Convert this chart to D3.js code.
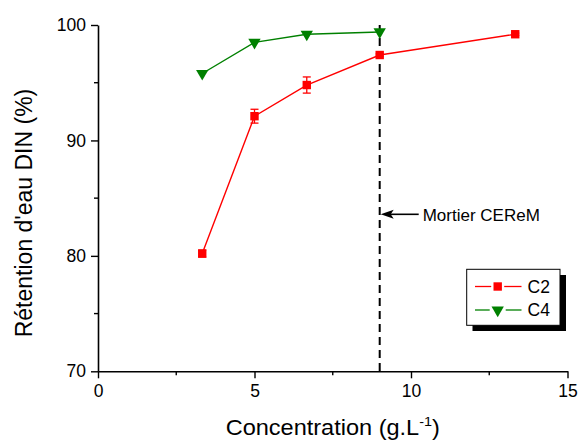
<!DOCTYPE html>
<html>
<head>
<meta charset="utf-8">
<script src="https://cdn.jsdelivr.net/npm/d3@7"></script>
<style>
  html, body { margin: 0; padding: 0; background: #fff; }
  svg { display: block; font-family: "Liberation Sans", Arial, sans-serif; }
</style>
</head>
<body>
<svg id="chart" width="579" height="441"></svg>
<script>
// ---- data ----
const c2Concentration = [3.33, 5, 6.67, 9, 13.33];
const c2Values = [80.2, 92.1, 94.8, 97.4, 99.2];
const c2Errors = [0.3, 0.6, 0.7, 0.1, 0.1];
const c4Concentration = [3.33, 5, 6.67, 9];
const c4Values = [95.8, 98.5, 99.2, 99.4];
const xTicks = [0, 5, 10, 15];
const xMinorTicks = [2.5, 7.5, 12.5];
const yTicks = [70, 80, 90, 100];
const yMinorTicks = [75, 85, 95];
const markerLine = 9;
const seriesNames = ["C2", "C4"];
const annotationText = "Mortier CEReM";

// ---- layout ----
const svg = d3.select("#chart");
svg.append("rect").attr("width", 579).attr("height", 441).attr("fill", "#fff");

const x = d3.scaleLinear().domain([0, 15]).range([98, 567.5]);
const y = d3.scaleLinear().domain([70, 100]).range([371.3, 25]);

const red = "#ff0000", green = "#008000";

// axes
const xAxis = d3.axisBottom(x).tickValues(xTicks).tickSize(7).tickSizeOuter(0).tickPadding(6);
const yAxis = d3.axisLeft(y).tickValues(yTicks).tickSize(7).tickSizeOuter(0).tickPadding(5);

const gx = svg.append("g").attr("transform", `translate(0,${y(70)})`).call(xAxis);
const gy = svg.append("g").attr("transform", `translate(${x(0)},0)`).call(yAxis);
[gx, gy].forEach(g => {
  g.select(".domain").attr("stroke", "#000").attr("stroke-width", 1.6);
  g.selectAll(".tick line").attr("stroke", "#000").attr("stroke-width", 1.4);
  g.selectAll(".tick text").attr("font-size", "17.5px").attr("fill", "#000")
    .attr("font-family", "'Liberation Sans', Arial, sans-serif");
});
// minor ticks
svg.append("g").selectAll("line").data(xMinorTicks).join("line")
  .attr("x1", d => x(d)).attr("x2", d => x(d))
  .attr("y1", y(70)).attr("y2", y(70) + 4)
  .attr("stroke", "#000").attr("stroke-width", 1.4);
svg.append("g").selectAll("line").data(yMinorTicks).join("line")
  .attr("x1", x(0)).attr("x2", x(0) - 4)
  .attr("y1", d => y(d)).attr("y2", d => y(d))
  .attr("stroke", "#000").attr("stroke-width", 1.4);

// axis titles
const xt = svg.append("text")
  .attr("transform", `translate(${(x(0) + x(15)) / 2},435) scale(1.07,1)`)
  .attr("text-anchor", "middle").attr("font-size", "22px").attr("fill", "#000");
xt.append("tspan").text("Concentration (g.L");
xt.append("tspan").attr("font-size", "13.5px").attr("dy", -9.5).text("-1");
xt.append("tspan").attr("dy", 9.5).text(")");

svg.append("text")
  .attr("transform", "translate(32,213) rotate(-90)")
  .attr("text-anchor", "middle").attr("font-size", "23px").attr("fill", "#000")
  .text("Rétention d'eau DIN (%)");

// dashed vertical marker line
svg.append("line")
  .attr("x1", x(markerLine)).attr("x2", x(markerLine))
  .attr("y1", y(100)).attr("y2", y(70))
  .attr("stroke", "#000").attr("stroke-width", 2).attr("stroke-dasharray", "8,5");

// annotation arrow
const arrowY = y(83.6);
svg.append("line")
  .attr("x1", x(markerLine) + 10).attr("x2", x(markerLine) + 39)
  .attr("y1", arrowY).attr("y2", arrowY)
  .attr("stroke", "#000").attr("stroke-width", 1.6);
svg.append("path")
  .attr("d", `M${x(markerLine) + 1},${arrowY} L${x(markerLine) + 14},${arrowY - 4.5} L${x(markerLine) + 11},${arrowY} L${x(markerLine) + 14},${arrowY + 4.5} Z`)
  .attr("fill", "#000");
svg.append("text").attr("x", x(markerLine) + 43).attr("y", arrowY + 6.5)
  .attr("font-size", "17px").attr("fill", "#000").text(annotationText);

// series lines
const c2 = c2Concentration.map((c, i) => ({ x: c, y: c2Values[i], e: c2Errors[i] }));
const c4 = c4Concentration.map((c, i) => ({ x: c, y: c4Values[i] }));
const line = d3.line().x(d => x(d.x)).y(d => y(d.y));

svg.append("path").datum(c4).attr("d", line).attr("fill", "none")
  .attr("stroke", green).attr("stroke-width", 1.4);
svg.append("path").datum(c2).attr("d", line).attr("fill", "none")
  .attr("stroke", red).attr("stroke-width", 1.4);

// error bars C2
const eb = svg.append("g").attr("stroke", red).attr("stroke-width", 1.3);
c2.forEach(d => {
  eb.append("line").attr("x1", x(d.x)).attr("x2", x(d.x)).attr("y1", y(d.y - d.e)).attr("y2", y(d.y + d.e));
  [d.y - d.e, d.y + d.e].forEach(v => {
    eb.append("line").attr("x1", x(d.x) - 4).attr("x2", x(d.x) + 4).attr("y1", y(v)).attr("y2", y(v));
  });
});

// markers
const tri = d3.symbol(d3.symbolTriangle, 66);
svg.append("g").selectAll("path").data(c4).join("path")
  .attr("d", tri)
  .attr("transform", d => `translate(${x(d.x)},${y(d.y)}) rotate(180)`)
  .attr("fill", green);
svg.append("g").selectAll("rect").data(c2).join("rect")
  .attr("x", d => x(d.x) - 4.2).attr("y", d => y(d.y) - 4.2)
  .attr("width", 8.4).attr("height", 8.4).attr("fill", red);

// legend
const lg = svg.append("g");
lg.append("rect").attr("x", 472.5).attr("y", 275).attr("width", 93.5).attr("height", 56).attr("fill", "#000");
lg.append("rect").attr("x", 466.7).attr("y", 269.3).attr("width", 93.3).attr("height", 56)
  .attr("fill", "#fff").attr("stroke", "#000").attr("stroke-width", 1);
const legendItems = [
  { name: seriesNames[0], color: red, yy: 286.5, sym: "square", gap: 6.5 },
  { name: seriesNames[1], color: green, yy: 310, sym: "tri", gap: 8 }
];
const lcx = 497.7;
legendItems.forEach(it => {
  [[475, lcx - it.gap], [lcx + it.gap, 521.5]].forEach(([a, b]) => {
    lg.append("line").attr("x1", a).attr("x2", b).attr("y1", it.yy).attr("y2", it.yy)
      .attr("stroke", it.color).attr("stroke-width", 1.3);
  });
  if (it.sym === "square") {
    lg.append("rect").attr("x", lcx - 4.2).attr("y", it.yy - 4.2).attr("width", 8.4).attr("height", 8.4).attr("fill", it.color);
  } else {
    lg.append("path").attr("d", tri).attr("transform", `translate(${lcx},${it.yy}) rotate(180)`).attr("fill", it.color);
  }
  lg.append("text").attr("x", 527.5).attr("y", it.yy + 6.3).attr("font-size", "17.5px").attr("fill", "#000").text(it.name);
});
</script>
</body>
</html>
